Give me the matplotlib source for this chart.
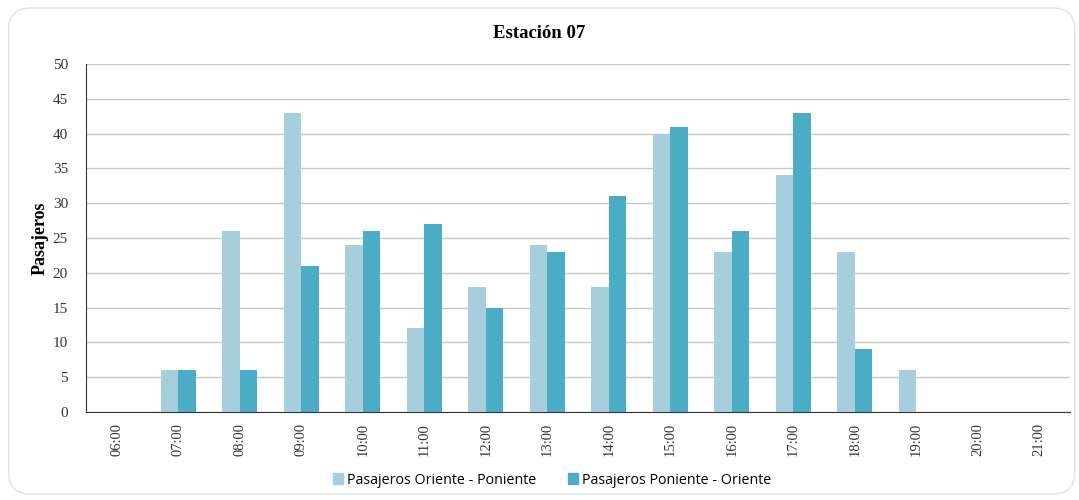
import numpy as np
import matplotlib
matplotlib.use("Agg")
import matplotlib.pyplot as plt
from matplotlib.patches import FancyBboxPatch

horas = ["06:00", "07:00", "08:00", "09:00", "10:00", "11:00", "12:00", "13:00",
         "14:00", "15:00", "16:00", "17:00", "18:00", "19:00", "20:00", "21:00"]
oriente_poniente = [0, 6, 26, 43, 24, 12, 18, 24, 18, 40, 23, 34, 23, 6, 0, 0]
poniente_oriente = [0, 6, 6, 21, 26, 27, 15, 23, 31, 41, 26, 43, 9, 0, 0, 0]

color_op = "#A7CEDC"
color_po = "#4BACC6"

fig = plt.figure(figsize=(10.79, 5.0), dpi=100)
fig.patch.set_facecolor("white")

# marco redondeado (detras de todo)
marco = FancyBboxPatch((0.008, 0.012), 0.988, 0.972, boxstyle="round,pad=0,rounding_size=0.02",
                       transform=fig.transFigure, facecolor="white", edgecolor="#E2E2E2",
                       linewidth=1.0, mutation_aspect=2.16, zorder=-10)
fig.add_artist(marco)

ax = fig.add_axes([0.0797, 0.176, 0.912, 0.696])
ax.set_facecolor("none")

x = np.arange(len(horas))
w = 0.285
ax.bar(x - w / 2, oriente_poniente, width=w, color=color_op, zorder=3)
ax.bar(x + w / 2, poniente_oriente, width=w, color=color_po, zorder=3)

ax.set_xlim(-0.5, len(horas) - 0.5)
ax.set_ylim(0, 50)
ax.set_yticks(range(0, 51, 5))
ax.set_xticks(x)
ax.set_xticklabels(horas, rotation=90, fontfamily="Liberation Serif", fontsize=10.5, color="#333333")
for lbl in ax.get_yticklabels():
    lbl.set_fontfamily("Liberation Serif")
    lbl.set_fontsize(11)
    lbl.set_color("#333333")
ax.tick_params(axis="x", length=0, pad=8)
ax.tick_params(axis="y", length=0, pad=13)
ax.grid(axis="y", color="#C8C8C8", linewidth=1.0, zorder=0)

for s in ["top", "right"]:
    ax.spines[s].set_visible(False)
ax.spines["left"].set_color("#333333")
ax.spines["bottom"].set_color("#333333")

ax.set_ylabel("Pasajeros", fontfamily="Liberation Serif", fontweight="bold", fontsize=13, labelpad=3)
fig.text(0.5, 0.934, "Estación 07", ha="center", va="center", fontfamily="Liberation Serif",
         fontweight="bold", fontsize=13.5)

handles = [plt.Rectangle((0, 0), 1, 1, color=color_op), plt.Rectangle((0, 0), 1, 1, color=color_po)]
fig.legend(handles, ["Pasajeros Oriente - Poniente", "Pasajeros Poniente - Oriente"],
           loc="center", bbox_to_anchor=(0.512, 0.04), ncol=2, frameon=False,
           prop={"family": "Open Sans", "size": 10.3}, handlelength=0.7, handleheight=0.7,
           handletextpad=0.3, columnspacing=2.2)

fig.savefig("out.png", dpi=100, facecolor="white")
